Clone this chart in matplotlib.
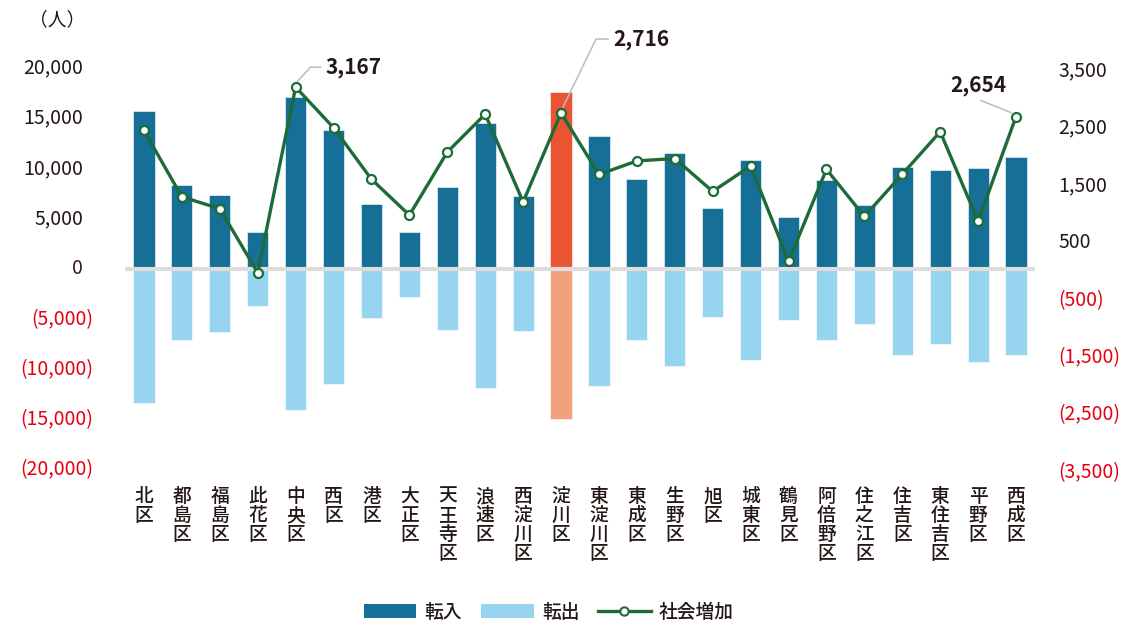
import matplotlib
matplotlib.use("Agg")
import matplotlib.pyplot as plt
import matplotlib.transforms as mtransforms
from matplotlib.patches import Patch
from matplotlib.lines import Line2D

plt.rcParams['font.family'] = ['Noto Sans CJK JP', 'DejaVu Sans']

wards = ["北区", "都島区", "福島区", "此花区", "中央区", "西区", "港区", "大正区",
         "天王寺区", "浪速区", "西淀川区", "淀川区", "東淀川区", "東成区", "生野区", "旭区",
         "城東区", "鶴見区", "阿倍野区", "住之江区", "住吉区", "東住吉区", "平野区", "西成区"]
moved_in = [15750, 8360, 7360, 3680, 17150, 13830, 6470, 3680,
            8130, 14500, 7290, 17610, 13260, 8990, 11540, 6100,
            10850, 5175, 8825, 6370, 10150, 9880, 10050, 11175]
moved_out = [13365, 7095, 6300, 3715, 14000, 11410, 4905, 2756,
             6070, 11810, 6140, 14890, 11610, 7100, 9650, 4740,
             9085, 5040, 7065, 5440, 8525, 7490, 9220, 8555]
social_increase = [2412, 1257, 1050, -65, 3167, 2460, 1563, 938,
                   2036, 2696, 1168, 2716, 1646, 1882, 1924, 1351,
                   1793, 136, 1735, 915, 1651, 2390, 832, 2654]
left_ticks = [20000, 15000, 10000, 5000, 0, -5000, -10000, -15000, -20000]
right_ticks = [3500, 2500, 1500, 500, -500, -1500, -2500, -3500]
highlight = "淀川区"
annotated = {"中央区": "3,167", "淀川区": "2,716", "西成区": "2,654"}

C_IN = "#156F96"
C_OUT = "#96D4EF"
C_IN_HI = "#E95532"
C_OUT_HI = "#F2A17E"
C_LINE = "#1E6B3A"
C_TXT = "#231815"
C_NEG = "#E60012"
C_LEAD = "#BBBBBB"

W, H = 1139, 627
fig = plt.figure(figsize=(W / 100, H / 100), dpi=100)
ax = fig.add_axes([125 / W, 1 - 470 / H, (1035 - 125) / W, (470 - 68) / H])
x = list(range(len(wards)))
cin = [C_IN_HI if w == highlight else C_IN for w in wards]
cout = [C_OUT_HI if w == highlight else C_OUT for w in wards]
ax.bar(x, moved_in, width=0.56, color=cin, edgecolor="white", linewidth=0.4, zorder=2)
ax.bar(x, [-v for v in moved_out], width=0.56, color=cout, edgecolor="white", linewidth=0.4, zorder=2)
ax.axhline(0, color="#DDDDDD", lw=3, zorder=3)
ax.set_xlim(-0.5, len(wards) - 0.5)
ax.set_ylim(-20000, 20000)
ax.set_yticks(left_ticks)


def fmt(v):
    return f"({abs(v):,})" if v < 0 else f"{v:,}"


# left tick labels, accounting style: positives leave room for the closing paren
ax.set_yticklabels([])
ax.tick_params(axis="y", length=0)
ytr = mtransforms.blended_transform_factory(ax.transAxes, ax.transData)
for v in left_ticks:
    dx = -32 if v < 0 else -42
    col = C_NEG if v < 0 else ("#3A1A1A" if v == 0 else C_TXT)
    ax.text(0, v, fmt(v), transform=ytr + mtransforms.ScaledTranslation(dx / 100, 0, fig.dpi_scale_trans),
            ha="right", va="center", fontsize=14, color=col, clip_on=False)
ax.set_xticks([])
for s in ax.spines.values():
    s.set_visible(False)

ax2 = ax.twinx()
ax2.set_ylim(-3500, 3500)
ax2.plot(x, social_increase, color=C_LINE, lw=2.4, marker="o", markersize=6.5,
         markerfacecolor="white", markeredgecolor=C_LINE, markeredgewidth=1.6, zorder=5)
ax2.set_yticks(right_ticks)
ax2.set_yticklabels([fmt(v) for v in right_ticks], fontsize=14)
for lab, v in zip(ax2.get_yticklabels(), right_ticks):
    lab.set_color(C_NEG if v < 0 else C_TXT)
ax2.tick_params(axis="y", length=0, pad=17)
for s in ax2.spines.values():
    s.set_visible(False)
ax2.set_zorder(ax.get_zorder() + 1)
ax2.patch.set_visible(False)

# leader lines: pixel offsets from the data point (start, bend, end), text anchor
leaders = {
    "中央区": ([(2, 6), (15, 20), (25, 20)], (30, 20), "left"),
    "淀川区": ([(2, 6), (35, 74), (47, 74)], (52, 74), "left"),
    "西成区": ([(-5, 4), (-35, 16)], (-38, 31), "center"),
}
for w, txt in annotated.items():
    i = wards.index(w)
    y = social_increase[i]
    pts, (tx, ty), ha = leaders[w]
    tr = fig.dpi_scale_trans + mtransforms.ScaledTranslation(i, y, ax2.transData)
    ax2.add_line(Line2D([p[0] / 100 for p in pts], [p[1] / 100 for p in pts],
                        transform=tr, color=C_LEAD, lw=1.1, zorder=4, clip_on=False))
    ax2.text(tx / 100, ty / 100, txt, transform=tr, ha=ha, va="center", fontsize=15,
             fontweight="bold", color=C_TXT, clip_on=False)

# vertical category labels (one character per line)
lab_tr = ax.transData + mtransforms.ScaledTranslation(0, -17 / 100, fig.dpi_scale_trans)
for i, w in enumerate(wards):
    ax.text(i, -20000, "\n".join(w), transform=lab_tr, ha="center", va="top",
            fontsize=13.5, color=C_TXT, linespacing=1.0, fontweight="medium", clip_on=False)

fig.text(57 / W, 1 - 20 / H, "（人）", ha="center", va="center", fontsize=13.5, color=C_TXT)

handles = [Patch(facecolor=C_IN, edgecolor="none"), Patch(facecolor=C_OUT, edgecolor="none"),
           Line2D([0], [0], color=C_LINE, lw=2.4, marker="o", markersize=6,
                  markerfacecolor="white", markeredgecolor=C_LINE, markeredgewidth=1.5)]
fig.legend(handles, ["転入", "転出", "社会増加"], loc="center", bbox_to_anchor=(0.482, 1 - 612 / H),
           ncol=3, frameon=False, handlelength=2.8, handleheight=0.7,
           columnspacing=1.0, handletextpad=0.45, labelcolor=C_TXT,
           prop={"size": 13.5, "weight": "medium"})

fig.savefig("out.png", dpi=100)
